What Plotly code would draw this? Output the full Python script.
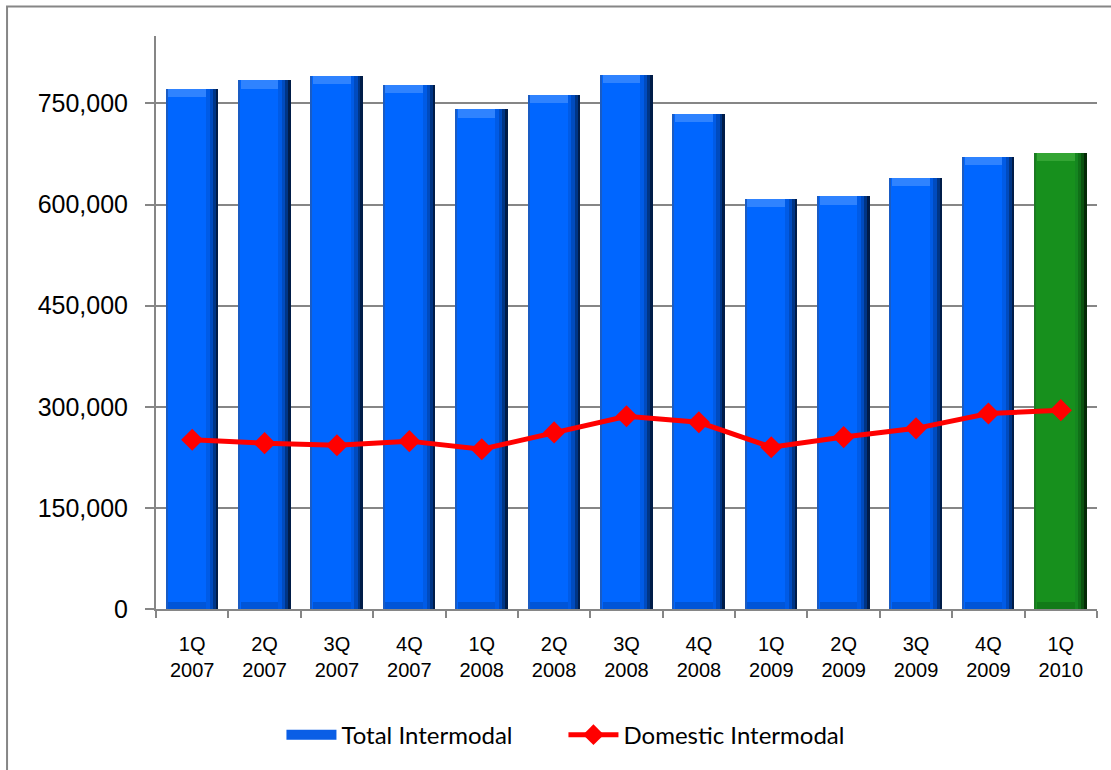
import plotly.graph_objects as go

# Quarterly intermodal volumes (units)
quarters = ["1Q<br>2007", "2Q<br>2007", "3Q<br>2007", "4Q<br>2007",
            "1Q<br>2008", "2Q<br>2008", "3Q<br>2008", "4Q<br>2008",
            "1Q<br>2009", "2Q<br>2009", "3Q<br>2009", "4Q<br>2009",
            "1Q<br>2010"]
total_intermodal = [772000, 784000, 791000, 777000,
                    741000, 763000, 792000, 735000,
                    608000, 612000, 640000, 671000,
                    677000]
domestic_intermodal = [251000, 246000, 243000, 249000,
                       237000, 262000, 286000, 277000,
                       240000, 255000, 268000, 290000,
                       295000]
y_ticks = [0, 150000, 300000, 450000, 600000, 750000]

# colour palettes: blue for history, green for the latest quarter
n = len(quarters)
latest = n - 1


def per_bar(blue, green):
    return [green if i == latest else blue for i in range(n)]


body = per_bar("#0066ff", "#17901d")
top_light = per_bar("#2f83ff", "#34a534")
bottom_dark = per_bar("#0055d8", "#127a18")
shade1 = per_bar("#005be6", "#158620")
shade2 = per_bar("#004bbf", "#107018")
shade3 = per_bar("#003585", "#0b5210")
shade4 = per_bar("#001c48", "#052a07")
edge_left = per_bar("#1a5cc4", "#1b7a22")

W = 0.72
fig = go.Figure()

# bar body
fig.add_trace(go.Bar(
    x=quarters, y=total_intermodal, name="Total Intermodal",
    marker=dict(color=body, line=dict(width=0)),
    width=W, offset=-W / 2, showlegend=False,
))

# bevel bands at the top and bottom of each bar
band_top = 12000
band_bottom = 10000
fig.add_trace(go.Bar(
    x=quarters, y=[band_top] * n, base=[v - band_top for v in total_intermodal],
    marker=dict(color=top_light, line=dict(width=0)),
    width=W - 0.1, offset=-W / 2 + 0.03, showlegend=False, hoverinfo="skip",
))
fig.add_trace(go.Bar(
    x=quarters, y=[band_bottom] * n, base=[0] * n,
    marker=dict(color=bottom_dark, line=dict(width=0)),
    width=W - 0.1, offset=-W / 2 + 0.03, showlegend=False, hoverinfo="skip",
))

# darker shading along the right side and a thin left edge
for w, col in [(0.17, shade1), (0.12, shade2), (0.075, shade3), (0.035, shade4)]:
    fig.add_trace(go.Bar(
        x=quarters, y=total_intermodal,
        marker=dict(color=col, line=dict(width=0)),
        width=w, offset=W / 2 - w, showlegend=False, hoverinfo="skip",
    ))
fig.add_trace(go.Bar(
    x=quarters, y=total_intermodal,
    marker=dict(color=edge_left, line=dict(width=0)),
    width=0.02, offset=-W / 2, showlegend=False, hoverinfo="skip",
))

# legend key for the bars: a wide blue block
fig.add_trace(go.Scatter(
    x=[None], y=[None], name="Total Intermodal", mode="lines",
    line=dict(color="#0a5ee6", width=16), legendrank=1,
))

# domestic volume line
fig.add_trace(go.Scatter(
    x=quarters, y=domestic_intermodal, name="Domestic Intermodal",
    mode="lines+markers",
    line=dict(color="#ff0000", width=5),
    marker=dict(symbol="diamond", size=17, color="#ff0000"),
    legendrank=2,
))

fig.update_layout(
    width=1111, height=770,
    margin=dict(l=156, r=14, t=36, b=161),
    paper_bgcolor="white", plot_bgcolor="white",
    barmode="overlay", bargap=0,
    font=dict(family="Liberation Sans, Arial, sans-serif", color="black"),
    legend=dict(
        orientation="h", x=0.433, xanchor="center", y=-0.22, yanchor="middle",
        font=dict(family="Lato, Carlito, sans-serif", size=24, color="black"),
        itemwidth=50, entrywidth=217, entrywidthmode="pixels",
    ),
    shapes=[dict(
        type="rect", xref="paper", yref="paper",
        x0=-0.1583, x1=1.2, y0=-0.4, y1=1.0515,
        line=dict(color="#868686", width=2), fillcolor="rgba(0,0,0,0)",
        layer="below",
    )],
)

fig.update_xaxes(
    type="category", range=[-0.5, n - 0.5],
    showline=True, linecolor="#868686", linewidth=2,
    ticks="outside", ticklen=7, tickwidth=2, tickcolor="#868686",
    tickson="boundaries",
    tickfont=dict(size=20, family="Liberation Sans, Arial, sans-serif"),
    ticklabelstandoff=16,
    showgrid=False,
)
fig.update_yaxes(
    range=[0, 850000],
    tickvals=y_ticks, tickformat=",",
    showline=True, linecolor="#868686", linewidth=2,
    ticks="outside", ticklen=9, tickwidth=2, tickcolor="#868686",
    tickfont=dict(size=25, family="Liberation Sans, Arial, sans-serif"),
    ticklabelstandoff=12,
    showgrid=True, gridcolor="#868686", gridwidth=2,
    zeroline=False,
)

fig.write_html("out.html")
